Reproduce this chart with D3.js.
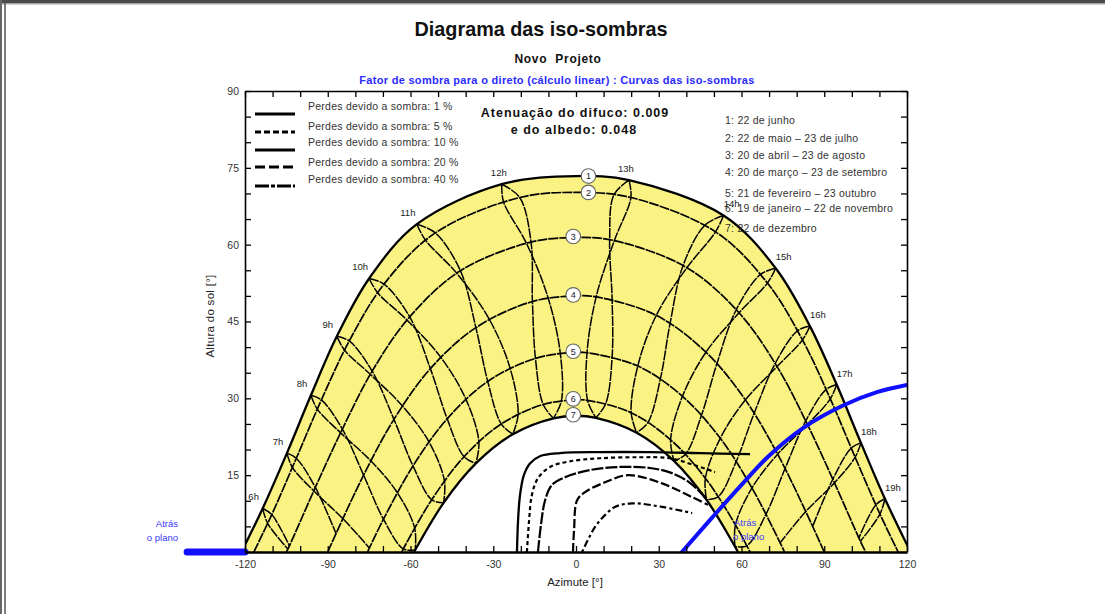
<!DOCTYPE html>
<html><head><meta charset="utf-8">
<script src="https://cdn.jsdelivr.net/npm/d3@7"></script>
<style>
body{margin:0;background:#fff;}
svg{display:block;font-family:"Liberation Sans",Arial,sans-serif;}
</style>
</head><body>
<svg id="c" width="1105" height="614"></svg>
<script>
// ---------------- DATA ----------------
const dateLabels = [
  "1: 22 de junho",
  "2: 22 de maio \u2013 23 de julho",
  "3: 20 de abril \u2013 23 de agosto",
  "4: 20 de mar\u00e7o \u2013 23 de setembro",
  "5: 21 de fevereiro \u2013 23 outubro",
  "6: 19 de janeiro \u2013 22 de novembro",
  "7: 22 de dezembro"
];
const lossLabels = [
  "Perdes devido a sombra: 1 %",
  "Perdes devido a sombra: 5 %",
  "Perdes devido a sombra: 10 %",
  "Perdes devido a sombra: 20 %",
  "Perdes devido a sombra: 40 %"
];
const xTicks = [-120,-110,-100,-90,-80,-70,-60,-50,-40,-30,-20,-10,0,10,20,30,40,50,60,70,80,90,100,110,120];
const yTicks = [0,5,10,15,20,25,30,35,40,45,50,55,60,65,70,75,80,85,90];

// noon elevation and sunrise/sunset azimuth of each date path (1..7)
const noonElev = [73.4, 70.2, 61.4, 50.0, 39.0, 29.7, 26.6];
const horizonAz = [121.3, 116.8, 105.0, 90.0, 75.6, 63.1, 58.7];

// [hour, azimuth, elevation] of each legal hour on each date path
// "a" = first half of the year, "b" = second half
const p1 = [[6,-113.6,8.5],[7,-104.8,19.3],[8,-96.1,30.6],[9,-86.7,42.1],[10,-75.0,53.4],[11,-57.7,64.0],[12,-26.9,71.8],[13,19.2,72.6],[14,53.5,65.7],[15,72.4,55.4],[16,84.8,44.1],[17,94.5,32.7],[18,103.3,21.3],[19,112.0,10.4]];
const p2a = [[6,-110.3,7.3],[7,-101.4,18.3],[8,-92.3,29.7],[9,-82.2,41.2],[10,-69.6,52.3],[11,-51.0,62.3],[12,-20.4,69.2],[13,19.9,69.2],[14,50.6,62.5],[15,69.4,52.5],[16,82.1,41.4],[17,92.2,29.9],[18,101.2,18.5],[19,110.2,7.4]];
const p2b = [[6,-111.8,5.6],[7,-102.8,16.5],[8,-93.8,27.9],[9,-83.9,39.4],[10,-71.9,50.6],[11,-54.6,60.9],[12,-26.3,68.4],[13,13.7,69.7],[14,46.7,63.8],[15,66.9,54.2],[16,80.3,43.2],[17,90.6,31.7],[18,99.8,20.3],[19,108.7,9.2]];
const p3a = [[6,-103.9,1.2],[7,-94.5,12.6],[8,-84.7,24.0],[9,-73.9,35.3],[10,-60.3,45.9],[11,-41.9,54.9],[12,-16.3,60.5],[13,13.9,60.8],[14,40.2,55.5],[15,59.1,46.7],[16,72.9,36.2],[17,83.9,24.9],[18,93.7,13.5],[19,103.1,2.1]];
const p3b = [[6,-104.5,0.6],[7,-95.0,11.9],[8,-85.4,23.3],[9,-74.6,34.7],[10,-61.3,45.3],[11,-43.2,54.4],[12,-18.0,60.3],[13,12.2,60.9],[14,38.8,55.9],[15,58.1,47.3],[16,72.2,36.8],[17,83.3,25.6],[18,93.1,14.2],[19,102.6,2.8]];
const p4a = [[7,-87.0,3.6],[8,-77.0,15.0],[9,-66.0,25.9],[10,-52.8,35.8],[11,-36.3,43.8],[12,-15.8,48.9],[13,7.3,49.8],[14,29.1,46.2],[15,47.1,39.0],[16,61.4,29.7],[17,73.1,19.1],[18,83.3,7.9]];
const p4b = [[7,-84.5,6.5],[8,-74.4,17.8],[9,-62.9,28.5],[10,-49.0,38.0],[11,-31.5,45.5],[12,-10.1,49.6],[13,13.1,49.3],[14,34.1,44.6],[15,51.1,36.8],[16,64.6,27.1],[17,75.8,16.3],[18,85.8,5.0]];
const p5a = [[8,-69.8,6.4],[9,-59.1,16.8],[10,-46.7,26.0],[11,-32.0,33.3],[12,-14.7,37.8],[13,4.0,38.9],[14,22.4,36.3],[15,38.6,30.4],[16,52.3,22.2],[17,63.8,12.5],[18,74.0,1.8]];
const p5b = [[7,-74.9,0.8],[8,-64.8,11.6],[9,-53.3,21.5],[10,-39.9,29.8],[11,-23.9,35.9],[12,-5.7,38.8],[13,13.1,38.1],[14,30.6,33.8],[15,45.5,26.7],[16,58.1,17.7],[17,68.9,7.4]];
const p6a = [[8,-62.6,0.6],[9,-52.3,10.2],[10,-40.6,18.6],[11,-27.1,25.0],[12,-11.9,28.8],[13,4.2,29.6],[14,20.0,27.2],[15,34.3,21.9],[16,46.9,14.4],[17,57.8,5.3]];
const p6b = [[8,-58.5,4.7],[9,-47.7,13.9],[10,-35.2,21.5],[11,-21.0,26.9],[12,-5.3,29.5],[13,10.8,29.0],[14,26.1,25.3],[15,39.7,19.1],[16,51.6,10.8],[17,61.9,1.2]];
const p7 = [[8,-58.3,0.4],[9,-48.0,9.6],[10,-36.3,17.3],[11,-22.9,23.0],[12,-8.2,26.1],[13,7.2,26.2],[14,22.0,23.3],[15,35.5,17.8],[16,47.3,10.2],[17,57.6,1.1]];

// numbered date markers (azimuth of marker on each path)
const markerAz = [4.5, 4.5, -1, -1, -1, -1, -1];

// iso-shading curves [azimuth, elevation]
const iso1  = [[-21.4,0],[-21.0,6.2],[-20.3,11.1],[-18.9,15.0],[-16.7,17.3],[-13.1,18.7],[-5.8,19.3],[8.7,19.5],[26.8,19.5],[45.0,19.3],[63.1,19.1]];
const iso5  = [[-17.8,0],[-17.0,6.2],[-16.0,11.1],[-13.8,14.4],[-9.4,16.6],[-2.2,17.7],[8.7,18.3],[23.2,18.5],[34.1,18.3],[42.1,17.1],[50.4,15.6]];
const iso10 = [[-13.8,0],[-12.7,5.3],[-11.2,10.1],[-8.7,13.1],[-4.0,14.6],[5.1,16.0],[16.0,16.6],[26.8,16.4],[34.8,15.4],[41.3,13.5],[47.9,10.1]];
const iso20 = [[-1.1,0],[-0.7,4.3],[0.4,10.1],[3.3,11.7],[10.5,13.6],[18.9,15.0],[31.2,13.4],[42.1,10.7],[47.9,9.2]];
const iso40 = [[2.2,0],[6.9,4.9],[10.5,7.2],[14.1,8.8],[20.3,9.5],[31.2,8.8],[42.1,7.6]];

// plane limit ("Atrás o plano")
const planeLeft = [[-141,0],[-120,0]];
const planeRight = [[38.4,0],[49.5,6.8],[59.5,12.8],[70,18.8],[82.3,24.2],[96.8,28.6],[109.1,31.2],[120,32.6]];

// ---------------- DRAW ----------------
const svg = d3.select("#c");
const W = 1105, H = 614;
const x = d3.scaleLinear().domain([-120,120]).range([245,907]);
const y = d3.scaleLinear().domain([0,90]).range([552,91]);

// page border
svg.append("rect").attr("x",0).attr("y",0).attr("width",W).attr("height",3.5).attr("fill","#4a4a4a");
svg.append("line").attr("x1",0).attr("x2",W).attr("y1",4).attr("y2",4).attr("stroke","#aaa").attr("stroke-width",1);
svg.append("line").attr("x1",1).attr("x2",1).attr("y1",0).attr("y2",H).attr("stroke","#666").attr("stroke-width",2);
svg.append("line").attr("x1",5).attr("x2",5).attr("y1",3).attr("y2",H).attr("stroke","#555").attr("stroke-width",1.5);

// titles
svg.append("text").attr("x",541).attr("y",36).attr("text-anchor","middle")
  .attr("font-size",19.8).attr("font-weight","bold").attr("fill","#111").text("Diagrama das iso-sombras");
svg.append("text").attr("x",558).attr("y",63).attr("text-anchor","middle")
  .attr("font-size",12).attr("font-weight","bold").attr("letter-spacing",0.7).attr("fill","#111")
  .attr("xml:space","preserve").text("Novo  Projeto");
svg.append("text").attr("x",557).attr("y",84).attr("text-anchor","middle")
  .attr("font-size",11).attr("font-weight","bold").attr("letter-spacing",0.3).attr("fill","#2b2bff")
  .text("Fator de sombra para o direto (c\u00e1lculo linear) : Curvas das iso-sombras");

const defs = svg.append("defs");
defs.append("clipPath").attr("id","plot").append("rect")
  .attr("x",x(-120)).attr("y",y(90)).attr("width",x(120)-x(-120)).attr("height",y(0)-y(90));

const g = svg.append("g").attr("clip-path","url(#plot)");
const line = d3.line().x(d=>x(d[0])).y(d=>y(d[1])).curve(d3.curveCatmullRom.alpha(0.5));

const firstHalf = [p1,p2a,p3a,p4a,p5a,p6a,p7];
const secondHalf = [p1,p2b,p3b,p4b,p5b,p6b,p7];

function datePath(i){
  const pts = firstHalf[i].map(p=>[p[1],p[2]]);
  pts.push([-horizonAz[i],0],[horizonAz[i],0],[0,noonElev[i]]);
  pts.sort((a,b)=>a[0]-b[0]);
  return pts;
}
const path1 = datePath(0), path7 = datePath(6);

// yellow band between June and December paths
g.append("path")
  .attr("d", line(path1) + line(path7.slice().reverse()).replace(/^M/,"L") + "Z")
  .attr("fill","#faf383").attr("stroke","none");

// intermediate date paths
for(let i=1;i<6;i++){
  g.append("path").attr("d",line(datePath(i))).attr("fill","none")
    .attr("stroke","#000").attr("stroke-width",1.7).attr("stroke-dasharray","10,1");
}

// hour lines (two halves of the year)
const hours = d3.range(6,20);
[firstHalf, secondHalf].forEach(set=>{
  hours.forEach(t=>{
    const pts = set.map(s=>s.find(p=>p[0]===t)).filter(Boolean).map(p=>[p[1],p[2]]);
    if(pts.length>1){
      g.append("path").attr("d",line(pts)).attr("fill","none")
        .attr("stroke","#000").attr("stroke-width",1.5).attr("stroke-dasharray","10,1");
    }
  });
});

// outer boundary paths
[path1,path7].forEach(p=>{
  g.append("path").attr("d",line(p)).attr("fill","none").attr("stroke","#000").attr("stroke-width",2.3);
});

// iso-shading curves
const isoCurves = [iso1,iso5,iso10,iso20,iso40];
const isoDash = ["none","4,3","12,2","9,3","3,3,7,3"];
const isoWidth = [2.3,2.2,2.2,2.2,2.2];
isoCurves.forEach((c,i)=>{
  g.append("path").attr("d",line(c)).attr("fill","none").attr("stroke","#000")
    .attr("stroke-width",isoWidth[i]).attr("stroke-dasharray",isoDash[i]);
});

// plane limit right
g.append("path").attr("d",line(planeRight)).attr("fill","none").attr("stroke","#1010ff")
  .attr("stroke-width",4).attr("stroke-linecap","round");

// hour labels
p1.forEach(p=>{
  const dx = p[1] < -40 ? -9 : (p[1] > 40 ? 8 : -3);
  svg.append("text").attr("x",x(p[1])+dx).attr("y",y(p[2])-8).attr("text-anchor","middle")
    .attr("font-size",9.5).attr("fill","#222").text(p[0]+"h");
});

// numbered markers
noonElev.forEach((e,i)=>{
  const cx = x(markerAz[i]), cy = y(e)+(i<2?0:-1);
  svg.append("circle").attr("cx",cx).attr("cy",cy).attr("r",7.3)
    .attr("fill","#fff").attr("stroke","#666").attr("stroke-width",1.1);
  svg.append("text").attr("x",cx).attr("y",cy+3.3).attr("text-anchor","middle")
    .attr("font-size",9).attr("fill","#223").text(i+1);
});

// plane limit left (outside plot)
svg.append("path").attr("d",d3.line().x(d=>x(d[0])).y(d=>y(d[1]))(planeLeft))
  .attr("stroke","#1010ff").attr("stroke-width",7).attr("stroke-linecap","round").attr("fill","none");

// "Atrás o plano" labels
const blue = "#3a3aff";
svg.append("text").attr("x",178).attr("y",527).attr("text-anchor","end").attr("font-size",9.5).attr("fill",blue).text("Atr\u00e1s");
svg.append("text").attr("x",178).attr("y",541).attr("text-anchor","end").attr("font-size",9.5).attr("fill",blue).text("o plano");
svg.append("text").attr("x",734).attr("y",526).attr("font-size",9.5).attr("fill",blue).text("Atr\u00e1s");
svg.append("text").attr("x",733).attr("y",540).attr("font-size",9.5).attr("fill",blue).text("o plano");

// axes
const tickCol = "#333";
const ax = svg.append("g");
const axB = ax.append("g").attr("transform",`translate(0,${y(0)})`)
  .call(d3.axisBottom(x).tickValues(xTicks).tickSizeInner(-6).tickSizeOuter(0).tickPadding(9)
    .tickFormat(d=> d%30===0 ? d : ""));
const axT = ax.append("g").attr("transform",`translate(0,${y(90)})`)
  .call(d3.axisTop(x).tickValues(xTicks).tickSizeInner(-6).tickSizeOuter(0).tickFormat(""));
const axL = ax.append("g").attr("transform",`translate(${x(-120)},0)`)
  .call(d3.axisLeft(y).tickValues(yTicks).tickSizeInner(-6).tickSizeOuter(0).tickPadding(6)
    .tickFormat(d=> (d%15===0 && d>0) ? d : ""));
const axR = ax.append("g").attr("transform",`translate(${x(120)},0)`)
  .call(d3.axisRight(y).tickValues(yTicks).tickSizeInner(-6).tickSizeOuter(0).tickFormat(""));
[axB,axT,axL,axR].forEach(a=>{
  a.selectAll("path.domain").attr("stroke","#000").attr("stroke-width",1.6);
  a.selectAll(".tick line").attr("stroke","#000").attr("stroke-width",1.3);
  a.selectAll(".tick text").attr("font-size",10.5).attr("fill",tickCol).attr("font-family","Liberation Sans, Arial, sans-serif");
});
axB.select("path.domain").attr("stroke-width",2.6);

svg.append("text").attr("x",575).attr("y",586).attr("text-anchor","middle")
  .attr("font-size",11.5).attr("fill","#222").text("Azimute [\u00b0]");
svg.append("text").attr("transform","translate(214,316) rotate(-90)").attr("text-anchor","middle")
  .attr("font-size",11.5).attr("letter-spacing",0.3).attr("fill","#222").text("Altura do sol [\u00b0]");

// loss legend
const legDash = ["none","6,3","none","10,4","14,2,4,2"];
const legY = [114,132,150,167,186];
const txtY = [110,130,146,166,183];
lossLabels.forEach((t,i)=>{
  svg.append("line").attr("x1",255).attr("x2",295).attr("y1",legY[i]).attr("y2",legY[i])
    .attr("stroke","#000").attr("stroke-width",3).attr("stroke-dasharray",legDash[i]);
  svg.append("text").attr("x",308).attr("y",txtY[i]).attr("font-size",10.5).attr("letter-spacing",0.25)
    .attr("fill","#333").text(t);
});

// attenuation text
svg.append("text").attr("x",575).attr("y",117).attr("text-anchor","middle").attr("font-size",12.5)
  .attr("font-weight","bold").attr("fill","#111").attr("letter-spacing",1.0).text("Atenua\u00e7\u00e3o do difuco: 0.009");
svg.append("text").attr("x",574).attr("y",134).attr("text-anchor","middle").attr("font-size",12.5)
  .attr("font-weight","bold").attr("fill","#111").attr("letter-spacing",1.0).text("e do albedo: 0.048");

// date legend
const dY = [124,142,159,176,197,212,232];
dateLabels.forEach((t,i)=>{
  svg.append("text").attr("x",725).attr("y",dY[i]).attr("font-size",10.5).attr("letter-spacing",0.25)
    .attr("fill","#333").text(t);
});
</script>
</body></html>
